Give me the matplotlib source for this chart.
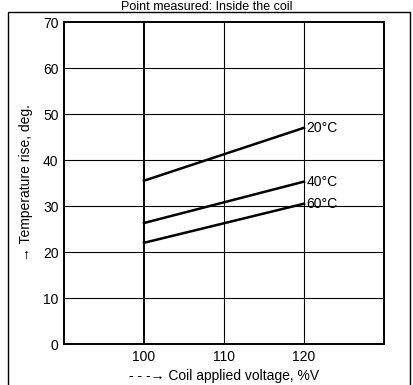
import matplotlib
matplotlib.use("Agg")
import matplotlib.pyplot as plt
from matplotlib.patches import Rectangle

voltage = [100, 120]
rise_20 = [35.5, 47.0]
rise_40 = [26.3, 35.3]
rise_60 = [22.0, 30.5]
labels = ["20°C", "40°C", "60°C"]
xticks = [100, 110, 120]
yticks = [0, 10, 20, 30, 40, 50, 60, 70]

fig = plt.figure(figsize=(4.14, 3.85), dpi=100)
plt.rcParams['font.family'] = ['Liberation Sans', 'DejaVu Sans']
W, H = 414, 385
ax = fig.add_axes([64 / W, 1 - 344 / H, (384 - 64) / W, (344 - 22) / H])
ax.set_xlim(90, 130)
ax.set_ylim(0, 70)
for y in yticks[1:-1]:
    ax.axhline(y, color='black', lw=0.8)
for x in xticks:
    ax.axvline(x, color='black', lw=1.4 if x == 100 else 0.8)
for series, lab in zip([rise_20, rise_40, rise_60], labels):
    ax.plot(voltage, series, color='black', lw=1.8)
    ax.text(voltage[-1] + 0.3, series[-1], lab, fontsize=10, va='center', ha='left')
ax.set_xticks(xticks)
ax.set_yticks(yticks)
ax.tick_params(length=0, labelsize=10, pad=4)
for s in ax.spines.values():
    s.set_linewidth(1.4)
ax.set_xlabel("- - -→ Coil applied voltage, %V", fontsize=10, labelpad=4)
ax.set_ylabel("→ Temperature rise, deg.", fontsize=10, labelpad=7)
fig.text(0.5, 1 - 0.5 / H, "Point measured: Inside the coil", ha='center', va='top', fontsize=9)
fig.patches.append(Rectangle((8 / W, -0.01), (410 - 8) / W, 1 - 12 / H + 0.01,
                             transform=fig.transFigure, fill=False, lw=1, color='black'))
fig.savefig("out.png", dpi=100)
